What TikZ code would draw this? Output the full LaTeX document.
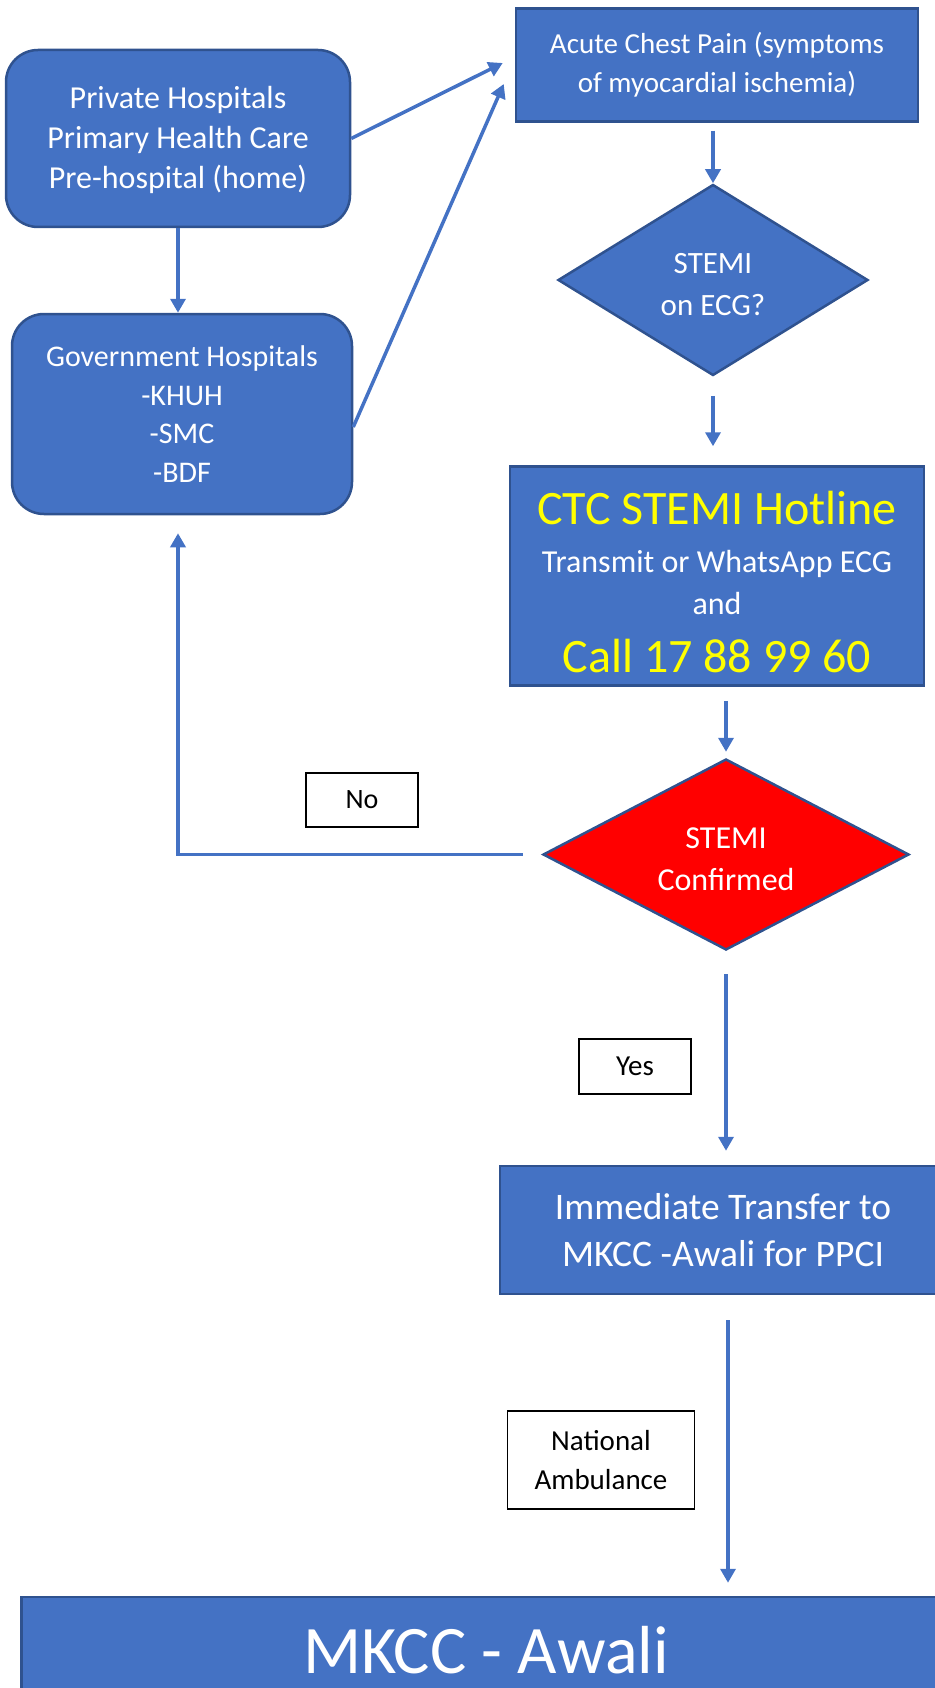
\documentclass[tikz,border=0pt]{standalone}
\usepackage{fontspec}
\setmainfont{Carlito}
\usepackage{tikz}
\usetikzlibrary{calc,shapes.geometric,arrows.meta}
\definecolor{boxblue}{HTML}{4472C4}
\definecolor{edgeblue}{HTML}{2F528F}
\definecolor{hotyellow}{HTML}{FFFF00}

\begin{document}
\begin{tikzpicture}[x=1pt,y=-1pt,
    bluebox/.style={draw=edgeblue, line width=2.5pt, fill=boxblue, text=white, align=center, inner sep=0pt},
    roundbox/.style={bluebox, rounded corners=32pt},
    decision/.style={bluebox, diamond},
    tag/.style={draw=black, line width=1.2pt, fill=white, text=black, align=center, inner sep=0pt},
    flow/.style={draw=boxblue, line width=3.5pt, -{Triangle[width=15pt,length=14pt]}}]
            \useasboundingbox (0,0) rectangle (934,1688);
            \node[roundbox, minimum width=344pt, minimum height=177pt, font=\fontsize{32}{40}\selectfont] (priv) at (178,138.5) {\rule{0pt}{26pt}Private Hospitals\\Primary Health Care\\Pre-hospital (home)};
            \node[roundbox, minimum width=340pt, minimum height=200pt, font=\fontsize{30}{38.7}\selectfont] (gov) at (182,414) {Government Hospitals\\-KHUH\\-SMC\\-BDF};
            \node[bluebox, minimum width=402pt, minimum height=113pt, font=\fontsize{29}{39}\selectfont] (acute) at (717,65) {Acute Chest Pain (symptoms\\of myocardial ischemia)};
            \node[decision, minimum width=310pt, minimum height=191pt, shape aspect=1.62, font=\fontsize{31}{42}\selectfont] (ecg) at (713,280) {\rule{0pt}{29pt}STEMI\\on ECG?};
            \node[bluebox, minimum width=414pt, minimum height=219pt, font=\fontsize{32}{39}\selectfont] (ctc) at (717,576) {\rule{0pt}{46pt}{\color{hotyellow}\fontsize{48}{52}\selectfont CTC STEMI Hotline}\\[9pt]Transmit or WhatsApp ECG\\[3pt]and\\[19pt]{\color{hotyellow}\fontsize{48}{52}\selectfont Call 17 88 99 60}};
            \node[decision, fill=red, minimum width=366pt, minimum height=191pt, shape aspect=1.92, font=\fontsize{32}{42}\selectfont] (conf) at (726,854.5) {\rule{0pt}{30pt}STEMI\\Confirmed};
            \node[tag, minimum width=112pt, minimum height=54pt, font=\fontsize{28}{34}\selectfont] (no) at (362,800) {No};
            \node[tag, minimum width=112pt, minimum height=55pt, font=\fontsize{29}{35}\selectfont] (yes) at (635,1066.5) {Yes};
            \node[bluebox, minimum width=446pt, minimum height=128pt, font=\fontsize{37.5}{47}\selectfont] (transfer) at (723,1230) {Immediate Transfer to\\MKCC -Awali for PPCI};
            \node[tag, minimum width=187pt, minimum height=98pt, font=\fontsize{29}{39.5}\selectfont] (amb) at (601,1460) {National\\Ambulance};
            \node[bluebox, minimum width=929pt, minimum height=106pt, font=\fontsize{68}{80}\selectfont] (mkcc) at (486,1650) {MKCC - Awali};
            % arrows into the chest pain box
            \draw[flow] (priv.east) -- ($(acute.west)+(-12,-2)$);
            \draw[flow] ($(gov.east)+(0,13)$) -- ($(acute.west)+(-11,19)$);
            \draw[flow] (priv.south) -- (priv.south |- gov.north);
            \draw[flow, shorten <=8pt] (ecg.north |- acute.south) -- (ecg.north);
            \draw[flow, shorten <=19pt, shorten >=19pt] (ecg.south) -- (ecg.south |- ctc.north);
            \draw[flow, shorten <=14pt, shorten >=6pt] (conf.north |- ctc.south) -- (conf.north);
            % \draw[flow] (conf.west) -- (no.east);
            \draw[flow, shorten <=19pt, shorten >=18pt] (conf.west) -| ([xshift=-4pt]gov.south);
            \draw[flow, shorten <=23pt, shorten >=14pt] (conf.south) -- (conf.south |- transfer.north);
            \draw[flow, shorten <=25pt, shorten >=13pt] ([xshift=5pt]transfer.south) -- ([xshift=5pt]transfer.south |- mkcc.north);
        \end{tikzpicture}
\end{document}
